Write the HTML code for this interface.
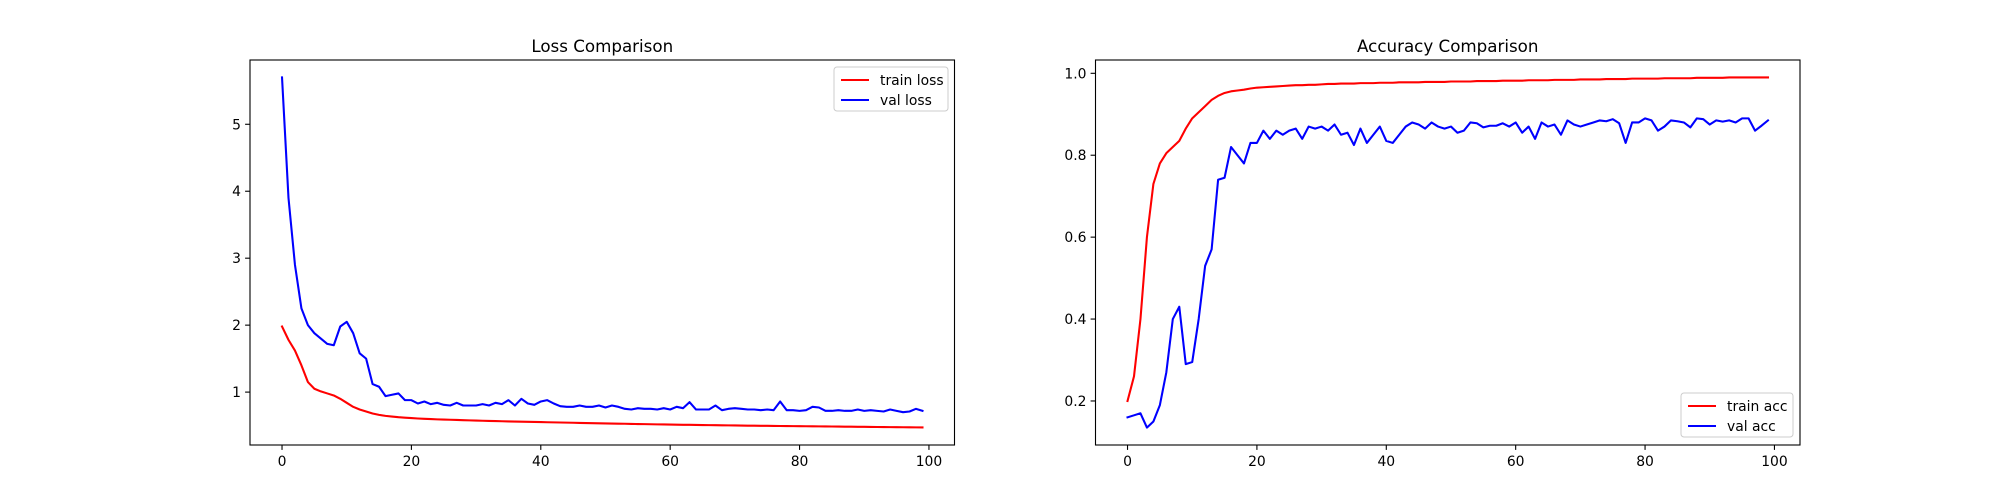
<!DOCTYPE html>
<html><head><meta charset="utf-8"><style>
html,body{margin:0;padding:0;background:#fff;}
svg{display:block;font-family:"DejaVu Sans","Liberation Sans",sans-serif;}
</style></head><body>
<svg id="fig" width="2000" height="500" xmlns="http://www.w3.org/2000/svg"></svg>
<script>
const epochs = Array.from({length:100},(_,i)=>i);
const trainLoss = [1.98,1.78,1.62,1.4,1.15,1.05,1.01,0.98,0.95,0.9,0.84,0.78,0.74,0.71,0.68,0.66,0.645,0.635,0.625,0.618,
0.612,0.606,0.601,0.597,0.593,0.59,0.587,0.584,0.581,0.578,0.575,0.572,0.57,0.567,0.565,0.562,0.56,0.558,0.556,0.554,
0.552,0.55,0.548,0.546,0.544,0.542,0.54,0.538,0.536,0.534,0.532,0.53,0.528,0.527,0.525,0.523,0.522,0.52,0.518,0.517,
0.515,0.514,0.512,0.511,0.51,0.508,0.507,0.506,0.504,0.503,0.502,0.5,0.499,0.498,0.497,0.496,0.495,0.494,0.493,0.492,
0.491,0.49,0.489,0.488,0.487,0.486,0.485,0.484,0.483,0.482,0.481,0.48,0.479,0.478,0.477,0.476,0.475,0.474,0.473,0.472];
const valLoss = [5.7,3.9,2.9,2.25,2.0,1.88,1.8,1.72,1.7,1.98,2.05,1.88,1.58,1.5,1.12,1.08,0.94,0.96,0.98,0.88,
0.88,0.83,0.86,0.82,0.84,0.81,0.8,0.84,0.8,0.8,0.8,0.82,0.8,0.84,0.82,0.88,0.8,0.9,0.83,0.81,
0.86,0.88,0.83,0.79,0.78,0.78,0.8,0.78,0.78,0.8,0.77,0.8,0.78,0.75,0.74,0.76,0.75,0.75,0.74,0.76,
0.74,0.78,0.76,0.85,0.74,0.74,0.74,0.8,0.73,0.75,0.76,0.75,0.74,0.74,0.73,0.74,0.73,0.86,0.73,0.73,
0.72,0.73,0.78,0.77,0.72,0.72,0.73,0.72,0.72,0.74,0.72,0.73,0.72,0.71,0.74,0.72,0.7,0.71,0.75,0.72];
const trainAcc = [0.2,0.26,0.4,0.6,0.73,0.78,0.805,0.82,0.835,0.865,0.89,0.905,0.92,0.935,0.945,0.952,0.956,0.958,0.96,0.963,
0.965,0.966,0.967,0.968,0.969,0.97,0.971,0.971,0.972,0.972,0.973,0.974,0.974,0.975,0.975,0.975,0.976,0.976,0.976,0.977,
0.977,0.977,0.978,0.978,0.978,0.978,0.979,0.979,0.979,0.979,0.98,0.98,0.98,0.98,0.981,0.981,0.981,0.981,0.982,0.982,
0.982,0.982,0.983,0.983,0.983,0.983,0.984,0.984,0.984,0.984,0.985,0.985,0.985,0.985,0.986,0.986,0.986,0.986,0.987,0.987,
0.987,0.987,0.987,0.988,0.988,0.988,0.988,0.988,0.989,0.989,0.989,0.989,0.989,0.99,0.99,0.99,0.99,0.99,0.99,0.99];
const valAcc = [0.16,0.165,0.17,0.135,0.15,0.19,0.27,0.4,0.43,0.29,0.295,0.4,0.53,0.57,0.74,0.745,0.82,0.8,0.78,0.83,
0.83,0.86,0.84,0.86,0.85,0.86,0.865,0.84,0.87,0.865,0.87,0.86,0.875,0.85,0.855,0.825,0.865,0.83,0.85,0.87,
0.835,0.83,0.85,0.87,0.88,0.875,0.865,0.88,0.87,0.865,0.87,0.855,0.86,0.88,0.878,0.868,0.872,0.872,0.878,0.87,
0.88,0.855,0.87,0.84,0.88,0.87,0.875,0.85,0.885,0.875,0.87,0.875,0.88,0.885,0.883,0.888,0.878,0.83,0.88,0.88,
0.89,0.885,0.86,0.87,0.885,0.883,0.88,0.868,0.89,0.888,0.875,0.885,0.882,0.885,0.88,0.89,0.89,0.86,0.872,0.885];
const xTicks = [0,20,40,60,80,100];
const lossTicks = [1,2,3,4,5];
const accTicks = [0.2,0.4,0.6,0.8,1.0];

const NS="http://www.w3.org/2000/svg";
const svg=document.getElementById('fig');
function el(tag,attrs,parent){const e=document.createElementNS(NS,tag);for(const k in attrs)e.setAttribute(k,attrs[k]);(parent||svg).appendChild(e);return e;}

function panel(opt){
  const g=el('g',{});
  
  
  const L=opt.left,R=opt.left+704.5,T=60,B=445;
  const sx=v=>L+(v-opt.xmin)/(opt.xmax-opt.xmin)*(R-L);
  const sy=v=>B-(v-opt.ymin)/(opt.ymax-opt.ymin)*(B-T);
  opt.series.forEach(s=>{
    const d=s.values.map((v,i)=>(i?'L':'M')+sx(epochs[i]).toFixed(2)+' '+sy(v).toFixed(2)).join(' ');
    const p=el('path',{d:d,fill:'none',stroke:s.color,'stroke-width':2.08,'stroke-linejoin':'round','stroke-linecap':'square'},g);
    
    
  });
  const frame=el('rect',{x:L,y:T,width:R-L,height:B-T,fill:'none',stroke:'#000','stroke-width':1.1},g);
  
  
  xTicks.forEach(t=>{
    const x=sx(t);
    el('line',{x1:x,y1:B,x2:x,y2:B+4.9,stroke:'#000','stroke-width':1.1},g);
    const tx=el('text',{x:x,y:B+21,'text-anchor':'middle','font-size':13.9,fill:'#000'},g);
    tx.textContent=t;
    
    
  });
  opt.yticks.forEach(t=>{
    const y=sy(t);
    el('line',{x1:L,y1:y,x2:L-4.9,y2:y,stroke:'#000','stroke-width':1.1},g);
    const tx=el('text',{x:L-9,y:y+5,'text-anchor':'end','font-size':13.9,fill:'#000'},g);
    tx.textContent=opt.fmt(t);
    
    
  });
  const title=el('text',{x:(L+R)/2,y:T-8,'text-anchor':'middle','font-size':16.7,fill:'#000'},g);
  title.textContent=opt.title;
  
  
  const lg=el('g',{},g);
  
  
  const lb=opt.legend;
  el('rect',{x:lb.x,y:lb.y,width:lb.w,height:44,rx:3,fill:'#fff','fill-opacity':0.8,stroke:'#ccc','stroke-width':1},lg);
  opt.series.forEach((s,i)=>{
    const yy=lb.y+13+i*20;
    el('line',{x1:lb.x+7,y1:yy,x2:lb.x+35,y2:yy,stroke:s.color,'stroke-width':2.08},lg);
    const t=el('text',{x:lb.x+46,y:yy+5,'font-size':13.9,fill:'#000'},lg);
    t.textContent=s.label;
    
    
  });
}
panel({name:'loss-chart',left:250,xmin:-4.95,xmax:103.95,ymin:0.21,ymax:5.96,yticks:lossTicks,fmt:t=>String(t),
  title:'Loss Comparison',legend:{x:834,y:67,w:114},
  series:[{key:'train-loss',label:'train loss',color:'#ff0000',values:trainLoss},{key:'val-loss',label:'val loss',color:'#0000ff',values:valLoss}]});
panel({name:'accuracy-chart',left:1095.5,xmin:-4.95,xmax:103.95,ymin:0.0925,ymax:1.0325,yticks:accTicks,fmt:t=>t.toFixed(1),
  title:'Accuracy Comparison',legend:{x:1681,y:393,w:112},
  series:[{key:'train-acc',label:'train acc',color:'#ff0000',values:trainAcc},{key:'val-acc',label:'val acc',color:'#0000ff',values:valAcc}]});
</script>
</body></html>
